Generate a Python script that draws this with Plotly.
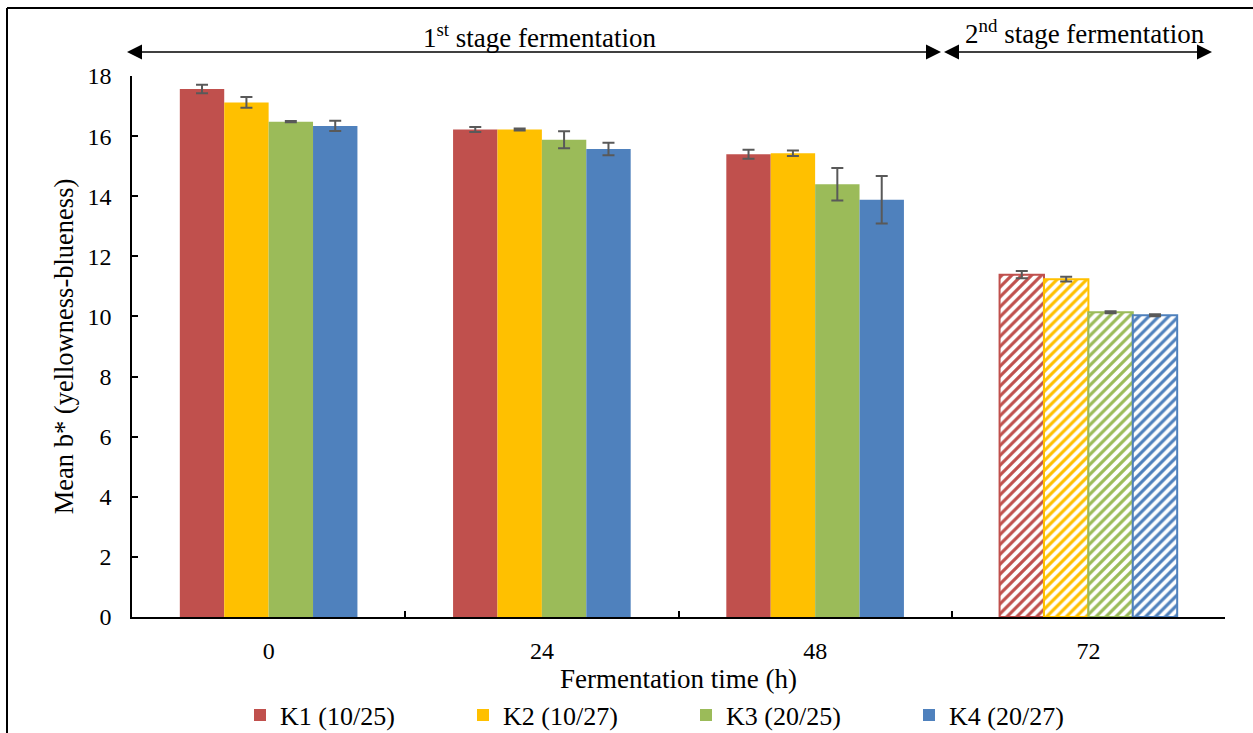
import plotly.graph_objects as go

categories = ["0", "24", "48", "72"]
series_names = ["K1 (10/25)", "K2 (10/27)", "K3 (20/25)", "K4 (20/27)"]
k1 = [17.57, 16.22, 15.40, 11.39]
k2 = [17.12, 16.22, 15.43, 11.24]
k3 = [16.48, 15.88, 14.40, 10.14]
k4 = [16.34, 15.57, 13.88, 10.04]
k1_err = [0.14, 0.08, 0.15, 0.12]
k2_err = [0.18, 0.03, 0.09, 0.08]
k3_err = [0.02, 0.28, 0.54, 0.03]
k4_err = [0.17, 0.21, 0.79, 0.03]
stage_labels = ["1<sup>st</sup> stage fermentation", "2<sup>nd</sup> stage fermentation"]

colors = ["#C0504D", "#FFC000", "#9BBB59", "#4F81BD"]
values = [k1, k2, k3, k4]
errors = [k1_err, k2_err, k3_err, k4_err]

FONT = "Liberation Serif, Times New Roman, serif"
W, H = 1253, 733
L, R, T, B = 132, 28, 76, 116
PW, PH = W - L - R, H - T - B

def px2paper_x(px):
    return (px - L) / PW

def px2paper_y(py):
    return (H - B - py) / PH

fig = go.Figure()
for name, vals, err, col in zip(series_names, values, errors, colors):
    shapes = ["" if c != "72" else "/" for c in categories]
    lw = [0 if c != "72" else 2 for c in categories]
    fig.add_trace(go.Bar(
        x=categories, y=vals, name=name,
        marker=dict(
            color=col,
            line=dict(color=col, width=lw),
            pattern=dict(shape=shapes, fgcolor=col, bgcolor="white",
                         fillmode="replace", size=7, solidity=0.45),
        ),
        error_y=dict(type="data", array=err, visible=True,
                     color="#595959", thickness=2, width=6),
    ))

fig.update_layout(
    width=W, height=H,
    margin=dict(l=L, r=R, t=T, b=B, autoexpand=False),
    paper_bgcolor="white", plot_bgcolor="white",
    font=dict(family=FONT, size=27, color="black"),
    barmode="group", bargap=0.35, bargroupgap=0,
    showlegend=True,
    legend=dict(orientation="h", x=px2paper_x(240), xanchor="left",
                y=px2paper_y(715), yanchor="middle",
                font=dict(size=26, family=FONT), entrywidth=178,
                bgcolor="rgba(0,0,0,0)"),
    xaxis=dict(type="category", range=[-0.5, 3.5], showline=True,
               linecolor="black", linewidth=1.5, ticks="inside",
               tickson="boundaries", ticklen=6, tickcolor="black",
               tickwidth=1.5, showgrid=False,
               tickfont=dict(size=24, family=FONT),
               ticklabelstandoff=11,
               title=dict(text="Fermentation time (h)", standoff=7,
                          font=dict(size=27, family=FONT))),
    yaxis=dict(range=[0, 18], dtick=2, showline=True, linecolor="black",
               linewidth=1.5, ticks="inside", ticklen=6, tickcolor="black",
               tickwidth=1.5, showgrid=False, zeroline=False,
               tickfont=dict(size=24, family=FONT), ticklabelstandoff=14,
               title=dict(text="Mean b* (yellowness-blueness)", standoff=6,
                          font=dict(size=26.5, family=FONT))),
)

# frame
fig.add_shape(type="line", xref="paper", yref="paper",
              x0=px2paper_x(7), x1=px2paper_x(1260),
              y0=px2paper_y(8), y1=px2paper_y(8),
              line=dict(color="black", width=2))
fig.add_shape(type="line", xref="paper", yref="paper",
              x0=px2paper_x(7), x1=px2paper_x(7),
              y0=px2paper_y(8), y1=px2paper_y(740),
              line=dict(color="black", width=2))

# stage arrows (lines + filled triangular heads)
AY = 52
HEAD_L, HEAD_H = 15, 7.5
for x_left, x_right in [(127, 941), (944, 1212)]:
    fig.add_shape(type="line", xref="paper", yref="paper",
                  x0=px2paper_x(x_left + 5), x1=px2paper_x(x_right - 5),
                  y0=px2paper_y(AY), y1=px2paper_y(AY),
                  line=dict(color="black", width=1.5))
    for tip, base in [(x_left, x_left + HEAD_L), (x_right, x_right - HEAD_L)]:
        path = "M {},{} L {},{} L {},{} Z".format(
            px2paper_x(tip), px2paper_y(AY),
            px2paper_x(base), px2paper_y(AY - HEAD_H),
            px2paper_x(base), px2paper_y(AY + HEAD_H))
        fig.add_shape(type="path", xref="paper", yref="paper", path=path,
                      fillcolor="black", line=dict(color="black", width=0))

fig.add_annotation(xref="paper", yref="paper", x=px2paper_x(540), y=px2paper_y(36),
                   text=stage_labels[0], showarrow=False, xanchor="center",
                   yanchor="middle", font=dict(size=27, family=FONT))
fig.add_annotation(xref="paper", yref="paper", x=px2paper_x(1085), y=px2paper_y(32),
                   text=stage_labels[1], showarrow=False, xanchor="center",
                   yanchor="middle", font=dict(size=27, family=FONT))

fig.write_html("out.html")
